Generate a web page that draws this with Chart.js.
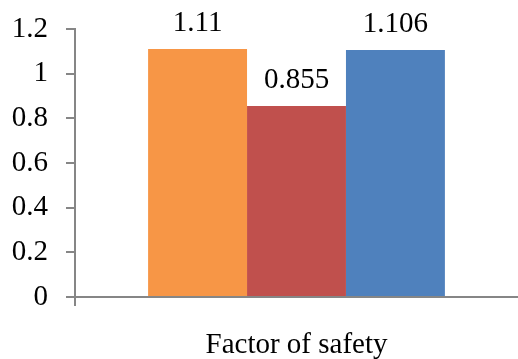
<!DOCTYPE html>
<html>
<head>
<meta charset="utf-8">
<script src="https://cdn.jsdelivr.net/npm/chart.js@4"></script>
<style>
  html, body { margin: 0; padding: 0; background: #fff; }
  #wrap { width: 518px; height: 359px; }
</style>
</head>
<body>
<div id="wrap"><canvas id="myChart"></canvas></div>
<script>
var categories = ['Factor of safety'];
var seriesNames = ['Series 1', 'Series 2', 'Series 3'];
var seriesValues = [[1.11], [0.855], [1.106]];
var valueLabels = ['1.11', '0.855', '1.106'];
var seriesColors = ['#F79646', '#C0504D', '#4F81BD'];
var yTicks = [0, 0.2, 0.4, 0.6, 0.8, 1, 1.2];

var FONT = "'Liberation Serif', 'Times New Roman', serif";
var FSIZE = 29;

// draw the value above each bar
var barValues = {
    id: 'barValues',
    afterDatasetsDraw: function(chart) {
        var ctx = chart.ctx;
        ctx.save();
        ctx.font = FSIZE + 'px ' + FONT;
        ctx.fillStyle = '#000';
        ctx.textAlign = 'center';
        ctx.textBaseline = 'middle';
        chart.data.datasets.forEach(function(ds, i) {
            var meta = chart.getDatasetMeta(i);
            meta.data.forEach(function(bar) {
                ctx.fillText(valueLabels[i], bar.x, bar.y - 26);
            });
        });
        ctx.restore();
    }
};

var ctx = document.getElementById('myChart');
var myChart = new Chart(ctx, {
    type: 'bar',
    data: {
        labels: categories,
        datasets: seriesValues.map(function(vals, i) {
            return {
                label: seriesNames[i],
                data: vals,
                backgroundColor: seriesColors[i],
                borderWidth: 0,
                barPercentage: 1,
                categoryPercentage: 0.67
            };
        })
    },
    options: {
        responsive: true,
        maintainAspectRatio: false,
        animation: false,
        layout: { padding: { top: 29, right: 0, left: 0, bottom: 0 } },
        plugins: {
            legend: { display: false },
            tooltip: { enabled: false }
        },
        scales: {
            x: {
                grid: {
                    display: true, offset: true, drawOnChartArea: false, drawTicks: true, tickLength: 9, lineWidth: 2,
                    color: function(c) { return c.index === 0 ? '#868686' : 'rgba(0,0,0,0)'; }
                },
                border: { color: '#868686', width: 2 },
                ticks: { color: '#000', font: { family: FONT, size: FSIZE }, padding: 22 },
                afterFit: function(s) { s.height = 62; }
            },
            y: {
                min: 0,
                max: 1.2,
                afterBuildTicks: function(s) { s.ticks = yTicks.map(function(v) { return { value: v }; }); },
                grid: { display: true, drawOnChartArea: false, drawTicks: true, tickLength: 9, color: '#868686', lineWidth: 2 },
                border: { color: '#868686', width: 2 },
                ticks: { color: '#000', font: { family: FONT, size: FSIZE }, padding: 18,
                    callback: function(v) { return String(Math.round(v * 10) / 10); } },
                afterFit: function(s) { s.width = 75; s.paddingTop = 0; s.paddingBottom = 0; }
            }
        }
    },
    plugins: [barValues]
});
</script>
</body>
</html>
